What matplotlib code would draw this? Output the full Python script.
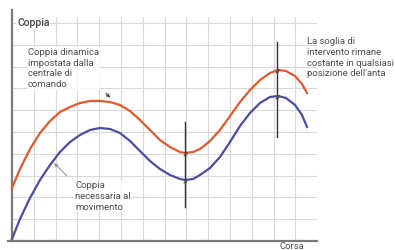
import numpy as np
import matplotlib
matplotlib.use("Agg")
from matplotlib import pyplot as plt

# posizione lungo la corsa (unita' arbitrarie, 1 quadretto = 21.8)
corsa = [0, 8, 18, 28, 38, 48, 58, 68, 78, 88, 98, 108, 118, 128, 138, 148, 158,
         168, 173, 181, 188, 198, 208, 218, 228, 238, 248, 258, 266, 274, 283, 290, 295]
# coppia dinamica impostata dalla centrale (rossa)
coppia_dinamica = [53, 72, 92, 108, 120, 129, 134, 138, 140, 140, 139, 136, 130, 121, 111, 101, 94,
                   89, 88, 89, 92, 100, 111, 125, 139, 151, 161, 168, 171, 170, 165, 157, 148]
# coppia necessaria al movimento (blu)
coppia_necessaria = [2, 22, 43, 61, 76, 89, 99, 106, 111, 113, 112, 108, 100, 90, 80, 72, 66,
                     62, 61, 62, 66, 73, 84, 99, 115, 128, 138, 144, 145, 143, 136, 126, 114]

# soglia: due segmenti verticali (x, y_min, y_max)
soglia_x = [173, 265]
soglia_ymin = [34, 104]
soglia_ymax = [119, 199]
# punti di intervento sulle curve
soglia_rossa = [88, 171]
soglia_blu = [61, 145]

cell = 21.8
grey_text = '#4d4d4d'
font = ['Roboto', 'DejaVu Sans']

fig = plt.figure(figsize=(3.95, 2.5), dpi=100)
ax = fig.add_axes([0, 0, 1, 1])
ax.set_xlim(-12, 383)
ax.set_ylim(-9, 241)
ax.axis('off')

# griglia
for k in range(1, 14):
    ax.plot([k * cell, k * cell], [0, 224], color='#d9d9d9', lw=0.8, zorder=1)
for k in range(1, 11):
    ax.plot([0, 304], [k * cell, k * cell], color='#d9d9d9', lw=0.8, zorder=1)

# assi
ax.plot([0, 0], [0, 231], color='#7a7a7a', lw=1.6, zorder=2)
ax.plot([-4, 305], [0, 0], color='#7a7a7a', lw=1.6, zorder=2)

ax.plot(corsa, coppia_dinamica, color='#e5582b', lw=1.6, zorder=3, solid_joinstyle='round')
ax.plot(corsa, coppia_necessaria, color='#4a4da3', lw=1.6, zorder=3, solid_joinstyle='round')

for x, y0, y1 in zip(soglia_x, soglia_ymin, soglia_ymax):
    ax.plot([x, x], [y0, y1], color='#333333', lw=1.0, zorder=4)

# piccoli segni sui punti di intervento
for x, yr, yb in zip(soglia_x, soglia_rossa, soglia_blu):
    for y in (yr, yb):
        ax.annotate('', xy=(x + 3, y + 1), xytext=(x - 1, y - 3),
                    arrowprops=dict(arrowstyle='-|>', color='#555555', lw=0.8,
                                    mutation_scale=4, shrinkA=0, shrinkB=0), zorder=5)

# frecce indicatrici
ax.annotate('', xy=(100, 141), xytext=(92, 150),
            arrowprops=dict(arrowstyle='-|>', color='#555555', lw=0.8, mutation_scale=5))
ax.annotate('', xy=(40, 80), xytext=(57, 63),
            arrowprops=dict(arrowstyle='-|>', color='#999999', lw=0.8, mutation_scale=5))

box = dict(facecolor='white', edgecolor='none', alpha=0.8, pad=0.5)
ax.text(5, 218, 'Coppia', fontsize=7.5, color='#444444', family=font,
        fontweight='medium', va='center', ha='left', bbox=box, zorder=5)
ax.text(16, 193, 'Coppia dinamica\nimpostata dalla\ncentrale di\ncomando',
        fontsize=6.8, color=grey_text, family=font, va='top', ha='left',
        linespacing=1.25, bbox=box, zorder=5)
ax.text(63, 60, 'Coppia\nnecessaria al\nmovimento',
        fontsize=6.8, color=grey_text, family=font, va='top', ha='left',
        linespacing=1.25, bbox=box, zorder=5)
ax.text(295, 204, "La soglia di\nintervento rimane\ncostante in qualsiasi\nposizione dell'anta",
        fontsize=6.8, color=grey_text, family=font, va='top', ha='left',
        linespacing=1.25, zorder=5)
ax.text(268, -1, 'Corsa', fontsize=6.8, color=grey_text, family=font,
        va='top', ha='left', zorder=5)

fig.savefig('out.png', dpi=100)
